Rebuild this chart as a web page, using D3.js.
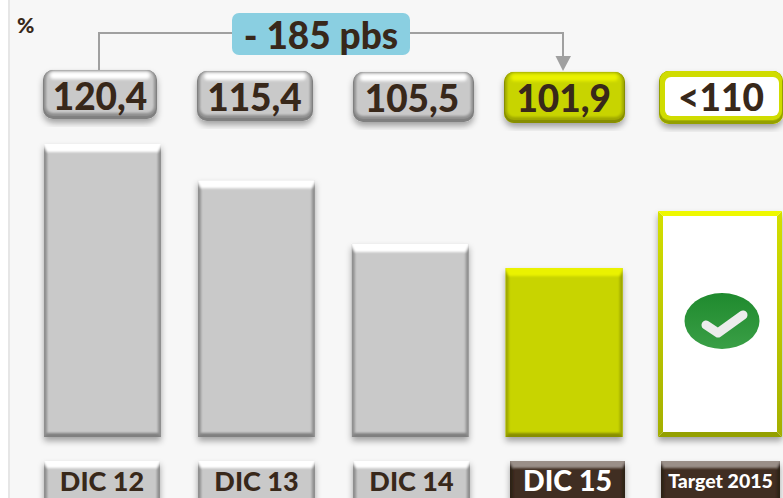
<!DOCTYPE html>
<html><head><meta charset="utf-8">
<script src="https://cdnjs.cloudflare.com/ajax/libs/d3/7.8.5/d3.min.js"></script>
<style>html,body{margin:0;padding:0;background:#fff;overflow:hidden}svg{display:block}text{font-family:Lato,"Open Sans",sans-serif;font-weight:900;paint-order:stroke}</style>
</head><body><svg id="c" width="783" height="498"></svg>
<script>
const categories = ["DIC 12","DIC 13","DIC 14","DIC 15","Target 2015"];
const valueLabels = ["120,4","115,4","105,5","101,9","<110"];
const barValues = [120.4,115.0,105.5,101.9,110.4];
const changeLabel = "- 185 pbs";
const unitLabel = "%";

const W=783,H=498,dark="#38281a";
const svg=d3.select("#c");
const defs=svg.append("defs");
const f=defs.append("filter").attr("id","sh").attr("x","-10%").attr("y","-10%").attr("width","120%").attr("height","125%");
f.append("feDropShadow").attr("dx",0).attr("dy",4).attr("stdDeviation",3).attr("flood-color","#000").attr("flood-opacity",.35);
const b=defs.append("filter").attr("id","soft").attr("x","-5%").attr("y","-5%").attr("width","110%").attr("height","110%");
b.append("feGaussianBlur").attr("stdDeviation",.9);
const b2=defs.append("filter").attr("id","soft2").attr("x","-20%").attr("y","-60%").attr("width","140%").attr("height","220%");
b2.append("feGaussianBlur").attr("stdDeviation",1.8);
const ws=defs.append("linearGradient").attr("id","wside").attr("x1",0).attr("y1",0).attr("x2",0).attr("y2",1);
ws.append("stop").attr("offset",0).attr("stop-color","#d4e000");
ws.append("stop").attr("offset",1).attr("stop-color","#a3ae00");

// background
svg.append("rect").attr("width",W).attr("height",H).attr("fill","#fff");
svg.append("rect").attr("x",10).attr("width",W-10).attr("height",H).attr("fill","#f7f7f7");
svg.append("rect").attr("x",8).attr("width",2).attr("height",H).attr("fill","#e6e6e6");

const x=d3.scalePoint().domain(categories).range([102.5,718]);
const y=d3.scaleLinear().domain([76.7,120.4]).range([437,144]);

const themes={
  grey:{fill:"#c9c9c9",top:"#ffffff",side:"#8f8f8f",bottom:"#808080"},
  lime:{fill:"#c8d400",top:"#eaf200",side:"#9fa800",bottom:"#878e00"},
  white:{fill:"#ffffff",top:"#eef800",side:"url(#wside)",bottom:"#94a000"},
  brown:{fill:"#3f2d22",top:"#9a8f88",side:"#2f2118",bottom:"#2a1d15"}
};
function poly(g,pts,fill){g.append("polygon").attr("points",pts.map(p=>p.join(",")).join(" ")).attr("fill",fill);}

function bevelBar(x0,y0,w,h,t,edge){
  const g=svg.append("g");
  g.append("rect").attr("x",x0).attr("y",y0).attr("width",w).attr("height",h).attr("fill",t.fill).attr("filter","url(#sh)");
  const e=edge.side,et=edge.top,eb=edge.bottom;
  const x1=x0+w,y1=y0+h;
  const clipId="c"+Math.round(x0)+"_"+Math.round(y0);
  defs.append("clipPath").attr("id",clipId).append("rect").attr("x",x0).attr("y",y0).attr("width",w).attr("height",h);
  const inner=g.append("g").attr("clip-path",`url(#${clipId})`).append("g").attr("filter",edge.sharp?null:"url(#soft)");
  const o=3;
  poly(inner,[[x0-o,y0-o],[x0+e,y0+et],[x0+e,y1-eb],[x0-o,y1+o]],t.side);
  poly(inner,[[x1+o,y0-o],[x1-e,y0+et],[x1-e,y1-eb],[x1+o,y1+o]],t.side);
  poly(inner,[[x0-o,y1+o],[x0+e,y1-eb],[x1-e,y1-eb],[x1+o,y1+o]],t.bottom);
  poly(inner,[[x0-o,y0-o],[x1+o,y0-o],[x1-e,y0+et],[x0+e,y0+et]],t.top);
  return g;
}

// bars
const barThemes=["grey","grey","grey","lime","white"];
const barWidths=[117,117,117,117,124];
categories.forEach((c,i)=>{
  const t=y(barValues[i]),w=barWidths[i];
  bevelBar(x(c)-w/2+(i===4?2:0),t,w,y(76.7)-t,themes[barThemes[i]],
    i===4?{side:5,top:5,bottom:5,sharp:true}:{side:3,top:8,bottom:4});
});

// value pills
const pillX=[[43,114,70,49],[197,116,71,50],[353,121,72,50],[504,121,72,51],[659,124,71,53]];
const pillTheme=["grey","grey","grey","lime","white"];
const textCx=[100,254.5,412,563.7,721];
function pill(px,py,w,h,t,white){
  const g=svg.append("g");
  g.append("rect").attr("x",px).attr("y",py).attr("width",w).attr("height",h).attr("rx",10).attr("fill",white?t.top:t.fill).attr("filter","url(#sh)");
  g.append("rect").attr("x",px).attr("y",py).attr("width",w).attr("height",h).attr("rx",10).attr("fill",white?"#94a000":t.bottom);
  g.append("rect").attr("x",px+1).attr("y",py).attr("width",w-2).attr("height",h-3).attr("rx",9).attr("fill",white?"#a8b400":t.side);
  if(white){
    g.append("rect").attr("x",px+1).attr("y",py).attr("width",w-2).attr("height",h-4).attr("rx",9).attr("fill","#d0dc00");
    g.append("rect").attr("x",px+6).attr("y",py+6).attr("width",w-10).attr("height",h-14).attr("rx",6).attr("fill","#fff");
  } else {
    g.append("rect").attr("x",px+3).attr("y",py+1).attr("width",w-6).attr("height",h-7).attr("rx",7).attr("fill",t.fill).attr("filter","url(#soft)");
    g.append("rect").attr("x",px+7).attr("y",py+2).attr("width",w-14).attr("height",7).attr("rx",3.5).attr("fill",t.top).attr("filter","url(#soft2)");
  }
}
valueLabels.forEach((l,i)=>{
  const p=pillX[i];
  pill(p[0],p[2],p[1],p[3],themes[pillTheme[i]],pillTheme[i]==="white");
  svg.append("text").attr("x",textCx[i]).attr("y",p[2]+40).attr("text-anchor","middle").attr("font-size",37).attr("fill",dark).text(l);
});

// connector
const lineCol="#a0a0a0";
svg.append("path").attr("d","M99,70V33H563V57").attr("fill","none").attr("stroke",lineCol).attr("stroke-width",2);
svg.append("polygon").attr("points","555.5,56 571,56 563,71").attr("fill",lineCol);
svg.append("rect").attr("x",232).attr("y",13).attr("width",178).attr("height",42).attr("rx",7).attr("fill","#8acfe1");
svg.append("text").attr("x",321).attr("y",49).attr("text-anchor","middle").attr("font-size",37).attr("fill",dark).text(changeLabel);
svg.append("text").attr("x",17).attr("y",33).attr("font-size",21).attr("fill",dark).text(unitLabel);

// check icon
const ck=svg.append("g");
const grad=defs.append("linearGradient").attr("id","gr").attr("x1",0).attr("y1",0).attr("x2",0).attr("y2",1);
grad.append("stop").attr("offset",0).attr("stop-color","#1f8a2e");
grad.append("stop").attr("offset",1).attr("stop-color","#3a9f46");
ck.append("ellipse").attr("cx",722).attr("cy",321).attr("rx",37.5).attr("ry",28).attr("fill","url(#gr)");
ck.append("path").attr("d","M706,325L718,333L743,315").attr("fill","none").attr("stroke","#ececec").attr("stroke-width",9).attr("stroke-linecap","round").attr("stroke-linejoin","round");

// category tags
const tagThemes=["grey","grey","grey","brown","brown"];
const tagX=[44,198,353,510,661],tagW=[116,117,117,115,119];
const tagFont=[27,27,27,28.5,19.5];
categories.forEach((c,i)=>{
  bevelBar(tagX[i],461,tagW[i],40,themes[tagThemes[i]],{side:3,top:7,bottom:0});
  svg.append("text").attr("x",tagX[i]+tagW[i]/2).attr("y",i===4?488:491).attr("text-anchor","middle")
    .attr("font-size",tagFont[i]).attr("fill",i>=3?"#fff":dark).text(c);
});
</script></body></html>
